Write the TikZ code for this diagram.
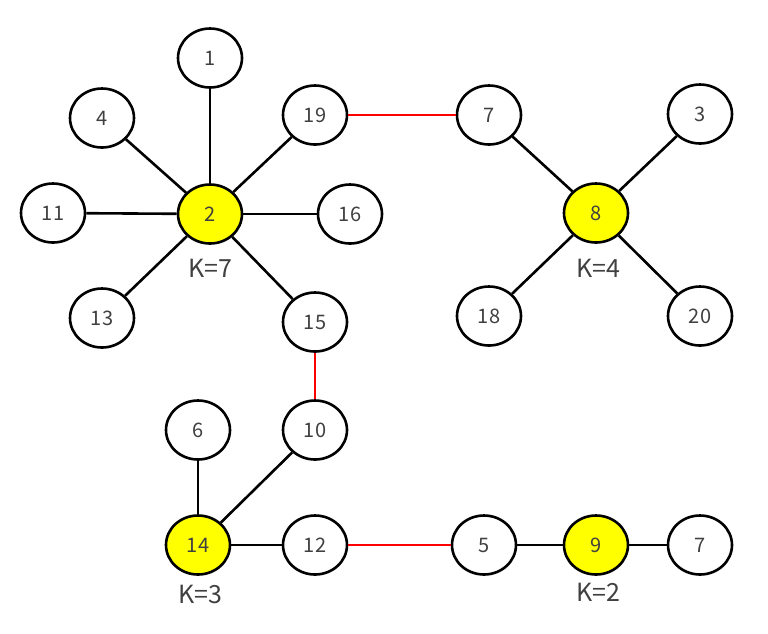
\documentclass[tikz,border=0pt]{standalone}
\usepackage{fontspec}
\setmainfont{Noto Sans CJK JP}
\usetikzlibrary{shapes.geometric}
\definecolor{hubyellow}{RGB}{255,255,0}
\definecolor{txtgray}{RGB}{64,64,64}
\begin{document}
\begin{tikzpicture}[x=1pt,y=-1pt,
  vtx/.style={ellipse,draw=black,line width=2.6pt,fill=white,minimum width=64pt,minimum height=59pt,inner sep=0pt,text=txtgray,font=\fontsize{20}{20}\selectfont},
  hub/.style={vtx,fill=hubyellow},
  edge/.style={line width=2.6pt,black},
  redge/.style={line width=2.6pt,red},
  klabel/.style={text=txtgray,font=\fontsize{25}{25}\selectfont}]
\useasboundingbox (0,0) rectangle (768,633);
\node[hub] (n2) at (210,214) {2};
\node[vtx] (n1) at (210,58) {1};
\node[vtx] (n4) at (102,118) {4};
\node[vtx] (n19) at (315,115) {19};
\node[vtx] (n11) at (53,213) {11};
\node[vtx] (n16) at (350,214) {16};
\node[vtx] (n13) at (102,318) {13};
\node[vtx] (n15) at (315,322) {15};
\node[vtx] (n7a) at (489,115) {7};
\node[vtx] (n3) at (700,114) {3};
\node[hub] (n8) at (596,213) {8};
\node[vtx] (n18) at (489,316) {18};
\node[vtx] (n20) at (700,316) {20};
\node[vtx] (n6) at (198,430) {6};
\node[vtx] (n10) at (315,430) {10};
\node[hub] (n14) at (198,545) {14};
\node[vtx] (n12) at (315,545) {12};
\node[vtx] (n5) at (484,545) {5};
\node[hub] (n9) at (596,545) {9};
\node[vtx] (n7b) at (700,545) {7};
\node[klabel] (k7) at (210,268) {K=7};
\node[klabel] (k4) at (598,268) {K=4};
\node[klabel] (k3) at (200,594) {K=3};
\node[klabel] (k2) at (598,592) {K=2};
\draw[edge] (n2) -- (n1);
\draw[edge] (n2) -- (n4);
\draw[edge] (n2) -- (n19);
\draw[edge] (n2) -- (n11);
\draw[edge] (n2) -- (n16);
\draw[edge] (n2) -- (n13);
\draw[edge] (n2) -- (n15);
\draw[redge] (n19) -- (n7a);
\draw[edge] (n8) -- (n7a);
\draw[edge] (n8) -- (n3);
\draw[edge] (n8) -- (n18);
\draw[edge] (n8) -- (n20);
\draw[redge] (n15) -- (n10);
\draw[edge] (n14) -- (n6);
\draw[edge] (n14) -- (n10);
\draw[edge] (n14) -- (n12);
\draw[redge] (n12) -- (n5);
\draw[edge] (n5) -- (n9);
\draw[edge] (n9) -- (n7b);
\end{tikzpicture}
\end{document}
